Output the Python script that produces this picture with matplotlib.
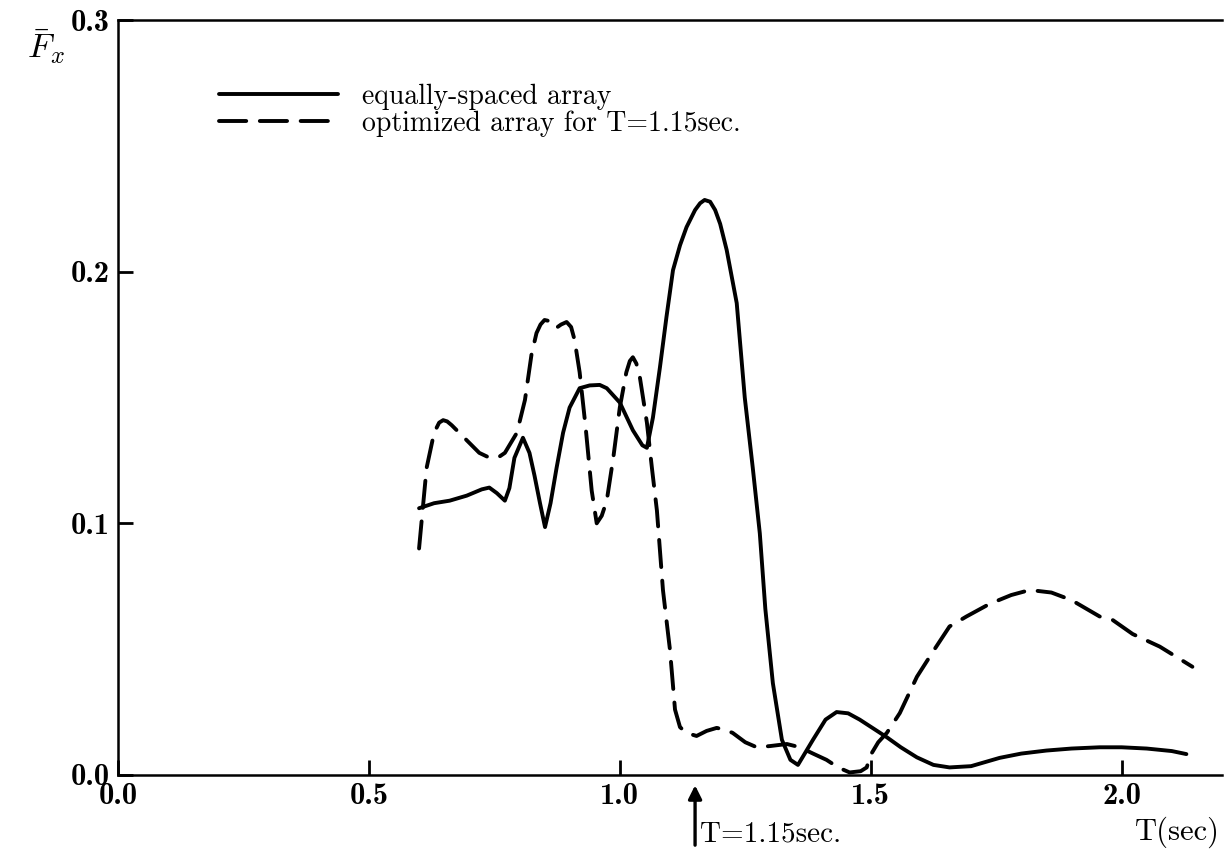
import matplotlib
matplotlib.use("Agg")
import matplotlib.pyplot as plt

plt.rcParams['mathtext.fontset'] = 'cm'
plt.rcParams['font.family'] = ['cmr10', 'DejaVu Serif']
plt.rcParams['axes.unicode_minus'] = False
plt.rcParams['axes.formatter.use_mathtext'] = True

# data
t_equal = [0.600, 0.630, 0.661, 0.695, 0.725, 0.740, 0.755, 0.771, 0.780, 0.790,
           0.807, 0.820, 0.830, 0.841, 0.851, 0.862, 0.874, 0.887, 0.900, 0.920,
           0.940, 0.960, 0.974, 1.000, 1.026, 1.045, 1.054, 1.066, 1.080, 1.093,
           1.106, 1.120, 1.133, 1.150, 1.160, 1.169, 1.180, 1.190, 1.200, 1.213,
           1.233, 1.249, 1.265, 1.279, 1.290, 1.305, 1.323, 1.340, 1.355, 1.370,
           1.385, 1.410, 1.432, 1.455, 1.478, 1.505, 1.532, 1.560, 1.592, 1.625,
           1.657, 1.700, 1.757, 1.800, 1.850, 1.900, 1.956, 2.000, 2.050, 2.100,
           2.129]
f_equal = [0.106, 0.108, 0.109, 0.111, 0.1135, 0.1142, 0.112, 0.109, 0.114, 0.126,
           0.134, 0.128, 0.119, 0.108, 0.0985, 0.108, 0.122, 0.136, 0.146, 0.1537,
           0.1548, 0.155, 0.1537, 0.148, 0.137, 0.131, 0.130, 0.142, 0.162, 0.182,
           0.2006, 0.2105, 0.2177, 0.2245, 0.2272, 0.2285, 0.2278, 0.2245, 0.219, 0.2086,
           0.1875, 0.150, 0.122, 0.096, 0.066, 0.0365, 0.014, 0.006, 0.004, 0.009,
           0.014, 0.022, 0.025, 0.0245, 0.022, 0.0185, 0.015, 0.011, 0.007, 0.004,
           0.003, 0.0035, 0.0068, 0.0085, 0.0097, 0.0105, 0.011, 0.011, 0.0105, 0.0095,
           0.0083]

t_opt = [0.600, 0.607, 0.615, 0.630, 0.640, 0.648, 0.656, 0.665, 0.695, 0.720,
         0.741, 0.760, 0.771, 0.795, 0.811, 0.824, 0.834, 0.842, 0.850, 0.857,
         0.865, 0.873, 0.883, 0.894, 0.903, 0.910, 0.920, 0.932, 0.944, 0.954,
         0.964, 0.974, 0.987, 1.000, 1.013, 1.020, 1.026, 1.033, 1.040, 1.054,
         1.064, 1.074, 1.086, 1.096, 1.100, 1.110, 1.120, 1.133, 1.153, 1.173,
         1.193, 1.210, 1.225, 1.250, 1.273, 1.300, 1.333, 1.359, 1.385, 1.412,
         1.435, 1.458, 1.480, 1.492, 1.500, 1.515, 1.532, 1.558, 1.592, 1.624,
         1.657, 1.691, 1.737, 1.780, 1.817, 1.860, 1.900, 1.956, 1.982, 2.022,
         2.076, 2.141]
f_opt = [0.090, 0.105, 0.122, 0.136, 0.140, 0.141, 0.1405, 0.139, 0.133, 0.128,
         0.126, 0.1265, 0.128, 0.136, 0.149, 0.167, 0.1756, 0.179, 0.1808, 0.1805,
         0.1785, 0.1776, 0.179, 0.180, 0.178, 0.1728, 0.160, 0.138, 0.113, 0.100,
         0.103, 0.109, 0.126, 0.146, 0.160, 0.1645, 0.166, 0.1635, 0.158, 0.140,
         0.122, 0.105, 0.0735, 0.0564, 0.0497, 0.026, 0.019, 0.0167, 0.0155, 0.0175,
         0.0187, 0.018, 0.0167, 0.013, 0.011, 0.0115, 0.0123, 0.011, 0.0085, 0.006,
         0.003, 0.001, 0.0015, 0.003, 0.008, 0.013, 0.0167, 0.0246, 0.039, 0.049,
         0.059, 0.063, 0.068, 0.0715, 0.0735, 0.0725, 0.0695, 0.063, 0.0616, 0.056,
         0.051, 0.043]

x_ticks = [0.0, 0.5, 1.0, 1.5, 2.0]
x_tick_labels = ['0.0', '0.5', '1.0', '1.5', '2.0']
y_ticks = [0.0, 0.1, 0.2, 0.3]
y_tick_labels = ['0.0', '0.1', '0.2', '0.3']

label_equal = 'equally-spaced array'
label_opt = 'optimized array for T=1.15sec.'
t_mark = 1.15

fig = plt.figure(figsize=(12.3, 8.49), dpi=100)
ax = fig.add_axes([0.0959, 0.0872, 0.8976, 0.8892])

ax.plot(t_equal, f_equal, color='black', lw=2.8, solid_capstyle='round',
        solid_joinstyle='round', label=label_equal)
ax.plot(t_opt, f_opt, color='black', lw=2.8, linestyle=(0, (7, 3.5)),
        dash_capstyle='round', dash_joinstyle='round', label=label_opt)

ax.set_xlim(0, 2.2)
ax.set_ylim(0, 0.3)

ax.spines['right'].set_visible(False)
for s in ['left', 'top', 'bottom']:
    ax.spines[s].set_linewidth(1.8)

ax.set_xticks(x_ticks)
ax.set_xticklabels(x_tick_labels)
ax.set_yticks(y_ticks)
ax.set_yticklabels(y_tick_labels)
ax.tick_params(direction='in', length=11, width=2.0, pad=6, labelsize=22)
for lab in ax.get_xticklabels() + ax.get_yticklabels():
    lab.set_family(['cmb10', 'DejaVu Serif'])

leg = ax.legend(loc='upper left', bbox_to_anchor=(0.0915, 0.916), frameon=False,
                fontsize=20, handlelength=4.3, handletextpad=0.85,
                labelspacing=0.02, borderpad=0, borderaxespad=0)

# y label and x label
ax.text(-0.065, 0.965, r'$\bar{F}_x$', transform=ax.transAxes, fontsize=25,
        ha='center', va='center')
ax.text(0.96, -0.076, 'T(sec)', transform=ax.transAxes, fontsize=22,
        ha='center', va='center')

# arrow marking T=1.15 sec
ax.annotate('', xy=(t_mark, -0.003), xytext=(t_mark, -0.029),
            arrowprops=dict(arrowstyle='-|>', lw=2.4, color='black',
                            mutation_scale=20),
            annotation_clip=False)
ax.text(t_mark + 0.01, -0.0235, 'T=1.15sec.', fontsize=21, ha='left',
        va='center', clip_on=False)

fig.savefig('out.png', dpi=100)
